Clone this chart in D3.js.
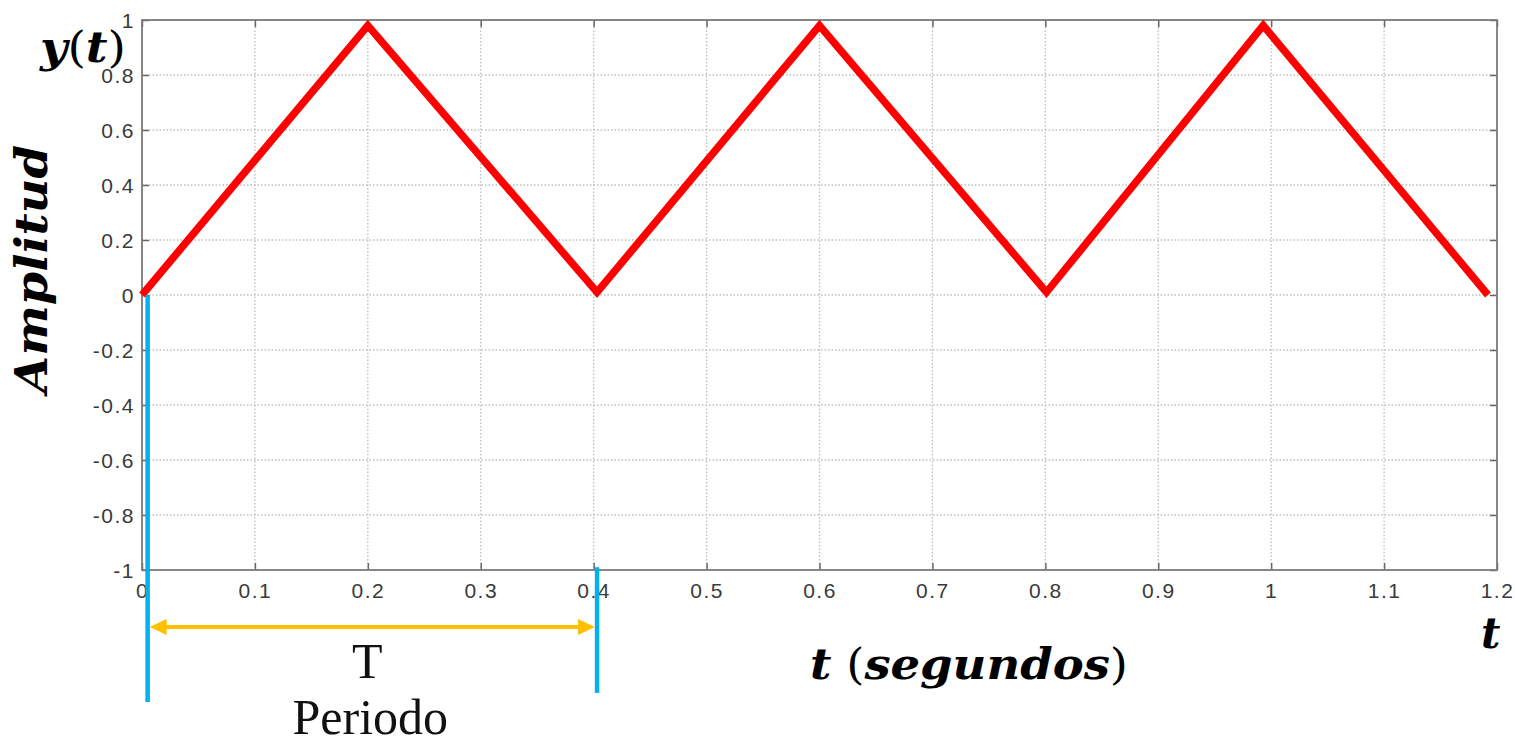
<!DOCTYPE html>
<html><head><meta charset="utf-8">
<script src="https://cdn.jsdelivr.net/npm/d3@7"></script>
<style>body{margin:0;background:#fff}svg{display:block}</style>
</head><body>
<svg id="c" width="1515" height="742"></svg>
<script>
// Data (t in seconds, amplitude)
const tValues = [0, 0.2, 0.403, 0.6, 0.801, 0.993, 1.192];
const yValues = [0, 0.98, 0.01, 0.98, 0.01, 0.98, 0];
const xTicks = [0,0.1,0.2,0.3,0.4,0.5,0.6,0.7,0.8,0.9,1,1.1,1.2];
const xTickLabels = ["0","0.1","0.2","0.3","0.4","0.5","0.6","0.7","0.8","0.9","1","1.1","1.2"];
const yTicks = [-1,-0.8,-0.6,-0.4,-0.2,0,0.2,0.4,0.6,0.8,1];
const yTickLabels = ["-1","-0.8","-0.6","-0.4","-0.2","0","0.2","0.4","0.6","0.8","1"];
// Period annotation (data units)
const periodStart = [0.005, 0, -1.48];   // t, y top, y bottom
const periodEnd = [0.403, -0.99, -1.447];
const arrowY = -1.207;

const svg = d3.select("#c");
const x = d3.scaleLinear().domain([0, 1.2]).range([142, 1497]);
const y = d3.scaleLinear().domain([-1, 1]).range([570, 20]);
const [x0, x1] = x.range(), [y0, y1] = y.range();

// grid
const grid = svg.append("g");
grid.selectAll("line.gx").data(xTicks.slice(1, -1)).join("line")
  .attr("x1", d => x(d)).attr("x2", d => x(d)).attr("y1", y1).attr("y2", y0)
  .attr("stroke", "#bdbdbd").attr("stroke-width", 1.3).attr("stroke-dasharray", "1.5,2");
grid.selectAll("line.gy").data(yTicks.slice(1, -1)).join("line")
  .attr("y1", d => y(d)).attr("y2", d => y(d)).attr("x1", x0).attr("x2", x1)
  .attr("stroke", "#bdbdbd").attr("stroke-width", 1.3).attr("stroke-dasharray", "1.5,2");

// axes (MATLAB style: inward ticks on all sides)
const fmtX = (d, i) => xTickLabels[i];
const fmtY = (d, i) => yTickLabels[i];
const ax = svg.append("g").attr("transform", `translate(0,${y0})`)
  .call(d3.axisBottom(x).tickValues(xTicks).tickFormat(fmtX).tickSizeInner(-7).tickSizeOuter(0).tickPadding(13));
const axTop = svg.append("g").attr("transform", `translate(0,${y1})`)
  .call(d3.axisTop(x).tickValues(xTicks).tickFormat("").tickSizeInner(-7).tickSizeOuter(0));
const ay = svg.append("g").attr("transform", `translate(${x0},0)`)
  .call(d3.axisLeft(y).tickValues(yTicks).tickFormat(fmtY).tickSizeInner(-7).tickSizeOuter(0).tickPadding(7));
const ayR = svg.append("g").attr("transform", `translate(${x1},0)`)
  .call(d3.axisRight(y).tickValues(yTicks).tickFormat("").tickSizeInner(-7).tickSizeOuter(0));
[ax, axTop, ay, ayR].forEach(g => {
  g.select(".domain").remove();
  g.selectAll(".tick line").attr("stroke", "#666").attr("stroke-width", 1.5);
  g.selectAll("text").attr("font-family", "Liberation Sans, Arial, sans-serif")
    .attr("font-size", 21).attr("fill", "#3a3a3a").attr("letter-spacing", 1.5);
});
ay.selectAll("text").attr("dy", "0.36em");
ax.selectAll("text").attr("dy", "0.72em");

svg.append("rect").attr("x", x0).attr("y", y1).attr("width", x1 - x0).attr("height", y0 - y1)
  .attr("fill", "none").attr("stroke", "#7a7a7a").attr("stroke-width", 1.8);

// signal
const pts = tValues.map((t, i) => [t, yValues[i]]);
svg.append("path").datum(pts)
  .attr("d", d3.line().x(d => x(d[0])).y(d => y(d[1])))
  .attr("fill", "none").attr("stroke", "#ff0000").attr("stroke-width", 7.5)
  .attr("stroke-linejoin", "miter");

// period annotation
svg.append("line").attr("x1", x(periodStart[0])).attr("x2", x(periodStart[0]))
  .attr("y1", y(periodStart[1])).attr("y2", y(periodStart[2]))
  .attr("stroke", "#00b0f0").attr("stroke-width", 4.5);
svg.append("line").attr("x1", x(periodEnd[0])).attr("x2", x(periodEnd[0]))
  .attr("y1", y(periodEnd[1])).attr("y2", y(periodEnd[2]))
  .attr("stroke", "#00b0f0").attr("stroke-width", 4.5);
const ax0 = x(periodStart[0]) + 2, ax1 = x(periodEnd[0]) - 2, ay0 = y(arrowY);
svg.append("line").attr("x1", ax0 + 10).attr("x2", ax1 - 10).attr("y1", ay0).attr("y2", ay0)
  .attr("stroke", "#ffc000").attr("stroke-width", 4);
svg.append("path").attr("d", `M${ax0},${ay0} L${ax0 + 17},${ay0 - 8} L${ax0 + 17},${ay0 + 8} Z`).attr("fill", "#ffc000");
svg.append("path").attr("d", `M${ax1},${ay0} L${ax1 - 17},${ay0 - 8} L${ax1 - 17},${ay0 + 8} Z`).attr("fill", "#ffc000");

const mid = (x(periodStart[0]) + x(periodEnd[0])) / 2;
svg.append("text").attr("x", mid - 5).attr("y", 678).attr("text-anchor", "middle")
  .attr("font-family", "Liberation Serif, Times New Roman, serif").attr("font-size", 50).attr("fill", "#111").text("T");
svg.append("text").attr("x", mid - 2).attr("y", 734).attr("text-anchor", "middle")
  .attr("font-family", "Liberation Serif, Times New Roman, serif").attr("font-size", 50).attr("fill", "#111").text("Periodo");

// math labels
const mathFont = "DejaVu Serif, Liberation Serif, serif";
function mathText(parts, attrs) {
  const t = svg.append("text").attr("font-family", mathFont).attr("font-weight", "bold")
    .attr("font-size", attrs.size).attr("fill", "#000");
  if (attrs.transform) t.attr("transform", attrs.transform);
  if (attrs.x !== undefined) t.attr("x", attrs.x).attr("y", attrs.y);
  if (attrs.anchor) t.attr("text-anchor", attrs.anchor);
  if (attrs.len) t.attr("textLength", attrs.len).attr("lengthAdjust", "spacingAndGlyphs");
  parts.forEach(([s, italic]) => t.append("tspan").attr("font-style", italic ? "italic" : "normal")
    .attr("font-weight", italic ? "bold" : "normal").text(s));
  return t;
}
mathText([["y", true], ["(", false], ["t", true], [")", false]], {x: 40, y: 62, size: 42, len: 86});
mathText([["Amplitud", true]], {x: 0, y: 0, size: 44, anchor: "middle", len: 248, transform: "translate(47,269) rotate(-90)"});
mathText([["t", true], [" (", false], ["segundos", true], [")", false]], {x: 810, y: 679, size: 43, len: 318});
mathText([["t", true]], {x: 1481, y: 648, size: 42});
</script>
</body></html>
